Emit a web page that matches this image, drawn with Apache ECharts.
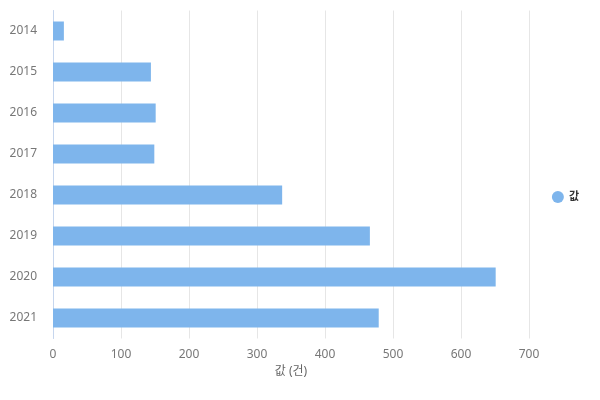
<!DOCTYPE html>
<html><head><meta charset="utf-8">
<script src="https://cdn.jsdelivr.net/npm/echarts@6/dist/echarts.min.js"></script>
<style>html,body{margin:0;padding:0;background:#fff}#c{width:600px;height:400px}</style>
</head><body><div id="c"></div>
<script>
const categories = ['2014','2015','2016','2017','2018','2019','2020','2021'];
const values = [16, 144, 151, 149, 337, 466, 651, 479];
const seriesName = '값';
const axisName = '값 (건)';
const font = '"Noto Sans", "Noto Sans CJK KR", sans-serif';
const chart = echarts.init(document.getElementById('c'));
chart.setOption({
  animation: false,
  textStyle: {fontFamily: font},
  grid: {left: 53, right: 71, top: 10.5, bottom: 61.5, containLabel: false},
  legend: {
    orient: 'vertical', right: 16, top: 186,
    icon: 'circle', itemWidth: 12, itemHeight: 12, itemGap: 6,
    textStyle: {fontFamily: font, fontSize: 11, fontWeight: 'bold', color: '#333'},
    data: [seriesName]
  },
  xAxis: {
    type: 'value', min: 0, max: 700, interval: 100,
    name: axisName, nameLocation: 'middle', nameGap: 27,
    nameTextStyle: {color: '#666', fontSize: 12, fontFamily: font},
    axisLine: {show: false}, axisTick: {show: false},
    axisLabel: {color: '#777', fontSize: 12, fontFamily: font, margin: 10},
    splitLine: {show: true, lineStyle: {color: '#e6e6e6'}}
  },
  yAxis: {
    type: 'category', data: categories, inverse: true,
    axisLine: {show: true, lineStyle: {color: '#c6d6ee'}},
    axisTick: {show: false},
    axisLabel: {color: '#777', fontSize: 12, fontFamily: font, margin: 16},
    splitLine: {show: false}
  },
  series: [{
    name: seriesName, type: 'bar', data: values, barWidth: 19,
    itemStyle: {color: '#7eb5ec'}
  }]
});
</script></body></html>
